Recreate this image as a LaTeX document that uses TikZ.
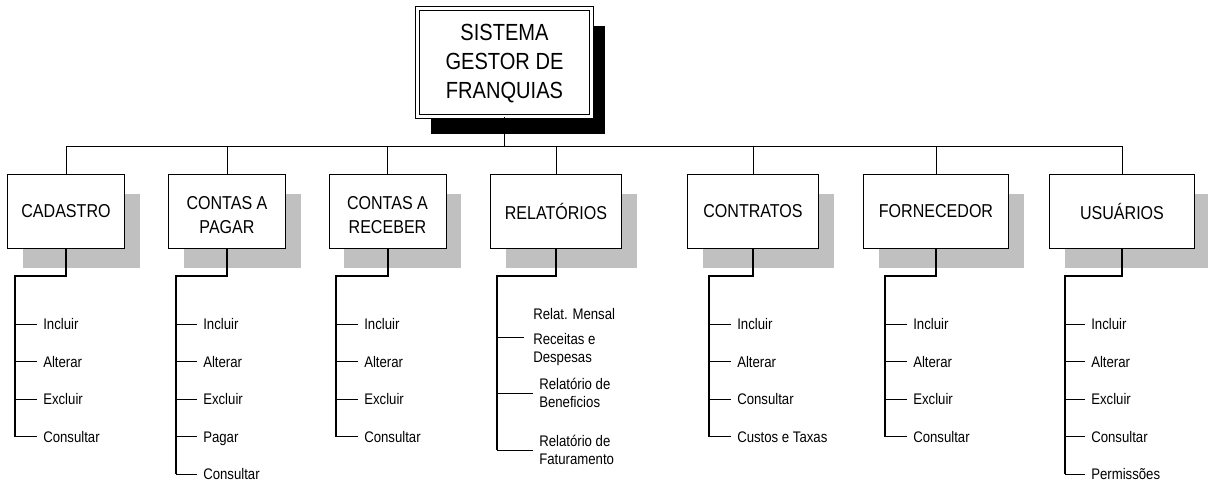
\documentclass[tikz,border=0pt]{standalone}
\usepackage{fontspec}
\setmainfont{Liberation Sans}[FakeStretch=0.86]
\usetikzlibrary{shadows,calc}
\definecolor{shadowgray}{HTML}{C0C0C0}
\begin{document}
\begin{tikzpicture}[x=0.75pt,y=-0.75pt,
  box/.style={draw, line width=0.75pt, fill=white, minimum width=#1, minimum height=55.5pt,
    inner sep=0pt, align=center, font=\fontsize{14}{18}\selectfont,
    drop shadow={shadow xshift=11.25pt, shadow yshift=-14.25pt, fill=shadowgray, opacity=1}},
  topbox/.style={draw, double, double distance=2.25pt, line width=0.75pt, fill=white,
    minimum width=130.5pt, minimum height=81pt, inner sep=0pt, align=center,
    font=\fontsize{17.5}{21.75}\selectfont,
    general shadow={fill=black, shadow xshift=10.1pt, shadow yshift=-13.5pt}},
  link/.style={line width=0.75pt},
  trunk/.style={line width=1.5pt},
  tick/.style={line width=0.75pt},
  item/.style={anchor=west, inner sep=0pt, text height=8.25pt, text depth=0pt,
    font=\fontsize{11.5}{13.5}\selectfont},
  multiitem/.style={anchor=west, inner sep=0pt, align=left,
    font=\fontsize{11.5}{13.5}\selectfont}]
\useasboundingbox (0,0) rectangle (1208,483);

% top node
\node[topbox] (top) at (504.5,62) {\rule{0pt}{15pt}SISTEMA\\GESTOR DE\\FRANQUIAS};

% second level
\node[box=87.75pt] (cad) at (66,211.5) {CADASTRO};
\node[box=87.75pt] (pag) at (227,211.5) {\rule{0pt}{15pt}CONTAS A\\PAGAR};
\node[box=87.75pt] (rec) at (387.5,211.5) {\rule{0pt}{15pt}CONTAS A\\RECEBER};
\node[box=98.25pt] (rel) at (556,211.5) {RELATÓRIOS};
\node[box=98.25pt] (con) at (753,211.5) {CONTRATOS};
\node[box=108.75pt] (forn) at (936,211.5) {FORNECEDOR};
\node[box=108.75pt] (usu) at (1122,211.5) {USUÁRIOS};

% bus
\coordinate (bus) at (0,146);
\draw[link] (top.south) -- (top.south |- bus);
\draw[link] (cad.north |- bus) -- (usu.north |- bus);
\foreach \n in {cad,pag,rec,rel,con,forn,usu}
  \draw[link] (\n.north) -- (\n.north |- bus);

% trunk tops
\coordinate (cadT) at (15,276);
\coordinate (pagT) at (176,276);
\coordinate (recT) at (336,276);
\coordinate (relT) at (497,276);
\coordinate (conT) at (709,276);
\coordinate (fornT) at (885,276);
\coordinate (usuT) at (1065,276);

% CADASTRO
\foreach \t [count=\i] in {Incluir,Alterar,Excluir,Consultar}
  \node[item] (cad-\i) at (43,{286.5+37.5*\i}) {\t};
\draw[trunk] (cad.south) |- (cadT) -- (cadT |- cad-4.west);
\foreach \i in {1,...,4}
  \draw[tick] (cadT |- cad-\i.west) -- ([xshift=-4.5pt]cad-\i.west);

% CONTAS A PAGAR
\foreach \t [count=\i] in {Incluir,Alterar,Excluir,Pagar,Consultar}
  \node[item] (pag-\i) at (203,{286.5+37.5*\i}) {\t};
\draw[trunk] (pag.south) |- (pagT) -- (pagT |- pag-5.west);
\foreach \i in {1,...,5}
  \draw[tick] (pagT |- pag-\i.west) -- ([xshift=-4.5pt]pag-\i.west);

% CONTAS A RECEBER
\foreach \t [count=\i] in {Incluir,Alterar,Excluir,Consultar}
  \node[item] (rec-\i) at (364,{286.5+37.5*\i}) {\t};
\draw[trunk] (rec.south) |- (recT) -- (recT |- rec-4.west);
\foreach \i in {1,...,4}
  \draw[tick] (recT |- rec-\i.west) -- ([xshift=-4.5pt]rec-\i.west);

% RELATORIOS
\node[multiitem] (rel-1) at (533,337) {Relat. Mensal\\[5pt]Receitas e\\Despesas};
\node[multiitem] (rel-2) at (539,393) {Relatório de\\Beneficios};
\node[multiitem] (rel-3) at (539,450) {Relatório de\\Faturamento};
\draw[trunk] (rel.south) |- (relT) -- (relT |- rel-3.west);
\draw[tick] (relT |- rel-1.west) -- ([xshift=-6.75pt]rel-1.west);
\draw[tick] (relT |- rel-2.west) -- ([xshift=-4.5pt]rel-2.west);
\draw[tick] (relT |- rel-3.west) -- ([xshift=-4.5pt]rel-3.west);

% CONTRATOS
\foreach \t [count=\i] in {Incluir,Alterar,Consultar,Custos e Taxas}
  \node[item] (con-\i) at (737,{286.5+37.5*\i}) {\t};
\draw[trunk] (con.south) |- (conT) -- (conT |- con-4.west);
\foreach \i in {1,...,4}
  \draw[tick] (conT |- con-\i.west) -- ([xshift=-4.5pt]con-\i.west);

% FORNECEDOR
\foreach \t [count=\i] in {Incluir,Alterar,Excluir,Consultar}
  \node[item] (forn-\i) at (913,{286.5+37.5*\i}) {\t};
\draw[trunk] (forn.south) |- (fornT) -- (fornT |- forn-4.west);
\foreach \i in {1,...,4}
  \draw[tick] (fornT |- forn-\i.west) -- ([xshift=-4.5pt]forn-\i.west);

% USUARIOS
\foreach \t [count=\i] in {Incluir,Alterar,Excluir,Consultar,Permissões}
  \node[item] (usu-\i) at (1091,{286.5+37.5*\i}) {\t};
\draw[trunk] (usu.south) |- (usuT) -- (usuT |- usu-5.west);
\foreach \i in {1,...,5}
  \draw[tick] (usuT |- usu-\i.west) -- ([xshift=-4.5pt]usu-\i.west);
\end{tikzpicture}
\end{document}
